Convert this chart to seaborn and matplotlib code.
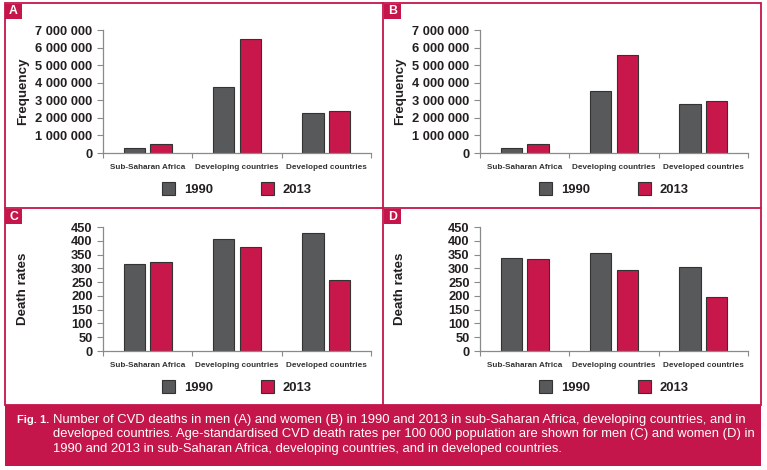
import numpy as np
import pandas as pd
import matplotlib
matplotlib.use("Agg")
import matplotlib.pyplot as plt
import seaborn as sns
from matplotlib.patches import Rectangle
from matplotlib.ticker import FuncFormatter, MultipleLocator, FixedLocator

# ---------------- data ----------------
regions = ["Sub-Saharan Africa", "Developing countries", "Developed countries"]
years = ["1990", "2013"]
deaths_men_1990 = [300000, 3740000, 2300000]
deaths_men_2013 = [490000, 6470000, 2380000]
deaths_women_1990 = [300000, 3550000, 2770000]
deaths_women_2013 = [510000, 5570000, 2940000]
rates_men_1990 = [314, 407, 427]
rates_men_2013 = [323, 376, 259]
rates_women_1990 = [339, 357, 304]
rates_women_2013 = [333, 294, 197]
panel_letters = ["A", "B", "C", "D"]
caption_bold = "Fig. 1."
caption_lines = [
    "Number of CVD deaths in men (A) and women (B) in 1990 and 2013 in sub-Saharan Africa, developing countries, and in",
    "developed countries. Age-standardised CVD death rates per 100 000 population are shown for men (C) and women (D) in",
    "1990 and 2013 in sub-Saharan Africa, developing countries, and in developed countries.",
]

GRAY = "#58595b"
RED = "#c8174b"
FRAME = "#c4164a"
TXT = "#231f20"

sns.set_style("white")
plt.rcParams["font.family"] = ["Liberation Sans", "DejaVu Sans"]

W, H = 767, 470
fig = plt.figure(figsize=(W / 100, H / 100), dpi=100)


def fx(px):
    return px / W


def fy(py):
    return 1 - py / H


def make_df(v1990, v2013):
    return pd.DataFrame({
        "region": regions * 2,
        "year": [years[0]] * 3 + [years[1]] * 3,
        "value": list(v1990) + list(v2013),
    })


panels = [
    (make_df(deaths_men_1990, deaths_men_2013), 103, 30, 153, "Frequency", 7e6, 1e6, True),
    (make_df(deaths_women_1990, deaths_women_2013), 480, 30, 153, "Frequency", 7e6, 1e6, True),
    (make_df(rates_men_1990, rates_men_2013), 103, 227, 351, "Death rates", 450, 50, False),
    (make_df(rates_women_1990, rates_women_2013), 480, 227, 351, "Death rates", 450, 50, False),
]

for df, left, top, bottom, ylab, ymax, step, big in panels:
    ax = fig.add_axes([fx(left), fy(bottom), fx(268), (bottom - top) / H])
    sns.barplot(data=df, x="region", y="value", hue="year", hue_order=years,
                palette=[GRAY, RED], saturation=1, width=0.6, gap=0.2,
                edgecolor="#333333", linewidth=0.8, ax=ax, errorbar=None)
    ax.set_xlim(-0.5, 2.5)
    ax.set_ylim(0, ymax)
    ax.yaxis.set_major_locator(MultipleLocator(step))
    if big:
        ax.yaxis.set_major_formatter(FuncFormatter(lambda v, p: f"{int(round(v)):,}".replace(",", " ")))
    for s in ["top", "right"]:
        ax.spines[s].set_visible(False)
    for s in ["left", "bottom"]:
        ax.spines[s].set_color("#8a8a8a")
        ax.spines[s].set_linewidth(0.9)
    ax.tick_params(axis="y", which="major", length=4, width=0.8, color="#8a8a8a",
                   pad=3.5, labelsize=9.3, labelcolor=TXT, left=True)
    for t in ax.get_yticklabels():
        t.set_fontweight("bold")
    ax.tick_params(axis="x", which="major", length=0, pad=8, labelsize=5.9, labelcolor="#333333")
    for t in ax.get_xticklabels():
        t.set_fontweight("bold")
    ax.xaxis.set_minor_locator(FixedLocator([-0.5, 0.5, 1.5, 2.5]))
    ax.tick_params(axis="x", which="minor", length=3.5, width=0.8, color="#8a8a8a", bottom=True)
    ax.set_xlabel("")
    ax.set_ylabel(ylab, fontsize=9.6, fontweight="bold", color=TXT)
    ax.yaxis.set_label_coords((29 - 103) / 268, 0.5)
    sns.move_legend(ax, "center", bbox_to_anchor=(0.5, -36 / (bottom - top)), ncol=2,
                    frameon=False, title=None, fontsize=9.4, handlelength=1.0,
                    handleheight=1.1, handletextpad=0.7, columnspacing=3.6)
    for t in ax.get_legend().get_texts():
        t.set_fontweight("bold")
        t.set_color(TXT)

# ---------------- frames ----------------
lw = 1.3
fig.add_artist(Rectangle((fx(5), fy(405)), fx(761 - 5), (405 - 3) / H, transform=fig.transFigure,
                         fill=False, edgecolor=FRAME, linewidth=lw))
fig.add_artist(plt.Line2D([fx(383), fx(383)], [fy(3), fy(405)], transform=fig.transFigure,
                          color=FRAME, linewidth=lw))
fig.add_artist(plt.Line2D([fx(5), fx(761)], [fy(208), fy(208)], transform=fig.transFigure,
                          color=FRAME, linewidth=lw))

# panel letter boxes
for letter, (px, py) in zip(panel_letters, [(5, 4), (384, 4), (5, 209), (384, 209)]):
    fig.add_artist(Rectangle((fx(px), fy(py + 15)), fx(17), 15 / H, transform=fig.transFigure,
                             facecolor=FRAME, edgecolor="none"))
    fig.text(fx(px + 8.5), fy(py + 7.5), letter, color="white", fontsize=8.8, fontweight="bold",
             ha="center", va="center")

# ---------------- caption ----------------
fig.add_artist(Rectangle((fx(5), fy(466)), fx(761 - 5), (466 - 405) / H, transform=fig.transFigure,
                         facecolor=FRAME, edgecolor="none"))
cap_family = ["Liberation Sans Narrow", "Liberation Sans"]
fig.text(fx(17), fy(420), caption_bold, color="white", fontsize=8.0, fontweight="bold",
         family=cap_family, ha="left", va="center")
# fit the font size so that the first line spans the measured width
probe = fig.text(0, 0, caption_lines[0], fontsize=10, family=cap_family)
fig.canvas.draw()
wpx = probe.get_window_extent().width
probe.remove()
cap_size = 10 * (748 - 53) / wpx
for i, line in enumerate(caption_lines):
    fig.text(fx(53), fy(420 + 14.5 * i), line, color="white", fontsize=cap_size,
             family=cap_family, ha="left", va="center")

fig.savefig("out.png", dpi=100)
